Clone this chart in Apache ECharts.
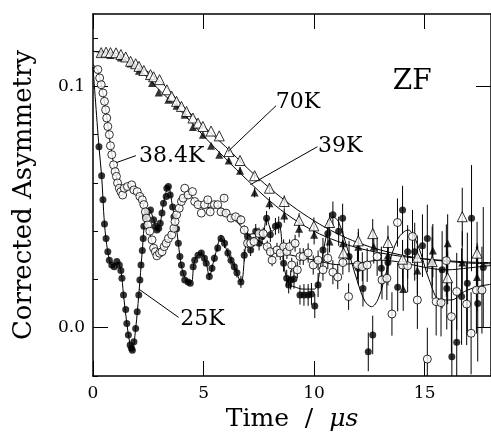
<!DOCTYPE html>
<html>
<head>
<meta charset="utf-8">
<script src="https://cdn.jsdelivr.net/npm/echarts@6/dist/echarts.min.js"></script>
<style>html,body{margin:0;padding:0;background:#fff}#c{width:491px;height:437px}</style>
</head>
<body>
<div id="c"></div>
<script>
// ---- data: [time (us), corrected asymmetry, error] ----
const d70 = [[0.37,0.1140,0],[0.59,0.1142,0],[0.79,0.1140,0],[1.04,0.1139,0],[1.26,0.1132,0],[1.48,0.1122,0],[1.70,0.1104,0],[1.93,0.1094,0],[2.08,0.1083,0],[2.30,0.1066,0],[2.60,0.1049,0],[2.74,0.1040,0],[3.01,0.1028,0],[3.34,0.0986,0],[3.56,0.0959,0],[3.78,0.0938,0],[4.00,0.0917,0],[4.23,0.0896,0],[4.52,0.0869,0],[4.75,0.0848,0],[4.97,0.0834,0],[5.34,0.0815,0],[5.71,0.0795,0],[6.15,0.0730,0.001],[6.65,0.0693,0.001],[7.31,0.0630,0.0015],[7.98,0.0578,0.002],[8.65,0.0523,0.0025],[9.32,0.0445,0.003],[9.99,0.0422,0.0035],[10.70,0.0436,0.004],[11.33,0.0310,0.0045],[12.00,0.0360,0.005],[12.65,0.0390,0.006],[13.34,0.0353,0.007],[14.00,0.0284,0.008],[14.67,0.0292,0.009],[15.34,0.0274,0.010],[16.04,0.0207,0.011],[16.70,0.0460,0.012],[17.37,0.0309,0.013]];
const d39 = [[0.37,0.1138,0],[0.79,0.1130,0],[1.26,0.1120,0],[1.70,0.1095,0],[2.08,0.1065,0],[2.67,0.1014,0],[2.97,0.0975,0],[3.41,0.0945,0],[3.78,0.0920,0],[4.15,0.0883,0],[4.52,0.0832,0],[4.97,0.0800,0],[5.34,0.0754,0],[5.71,0.0717,0],[6.14,0.0693,0.001],[6.65,0.0651,0.0015],[7.31,0.0560,0.002],[7.98,0.0516,0.0025],[8.65,0.0465,0.003],[9.32,0.0410,0.0035],[10.00,0.0385,0.004],[10.70,0.0357,0.0045],[11.30,0.0350,0.005],[12.00,0.0336,0.006],[12.70,0.0336,0.007],[13.34,0.0300,0.008],[14.03,0.0160,0.009],[14.67,0.0237,0.010],[15.37,0.0320,0.011],[16.04,0.0350,0.012],[16.70,0.0270,0.013],[17.37,0.0210,0.014]];
const d384 = [[0.22,0.1070,0],[0.30,0.1035,0],[0.37,0.1007,0],[0.45,0.0973,0],[0.52,0.0938,0],[0.57,0.0903,0],[0.62,0.0869,0],[0.67,0.0834,0],[0.74,0.0800,0],[0.79,0.0754,0],[0.85,0.0717,0],[0.93,0.0675,0],[1.00,0.0647,0],[1.06,0.0627,0],[1.11,0.0600,0],[1.19,0.0578,0],[1.26,0.0564,0],[1.34,0.0550,0],[1.41,0.0578,0],[1.56,0.0585,0],[1.75,0.0592,0],[1.85,0.0571,0],[2.00,0.0564,0],[2.12,0.0544,0],[2.23,0.0530,0],[2.30,0.0510,0],[2.37,0.0480,0],[2.42,0.0454,0],[2.48,0.0426,0],[2.57,0.0400,0],[2.67,0.0364,0],[2.74,0.0330,0],[2.82,0.0315,0],[2.89,0.0298,0],[3.01,0.0309,0],[3.12,0.0315,0],[3.22,0.0336,0],[3.31,0.0350,0],[3.41,0.0370,0],[3.56,0.0385,0],[3.66,0.0412,0],[3.71,0.0440,0],[3.78,0.0468,0],[3.90,0.0495,0],[4.00,0.0523,0],[4.08,0.0537,0],[4.15,0.0578,0],[4.30,0.0550,0],[4.50,0.0564,0],[4.60,0.0523,0],[4.75,0.0510,0],[4.90,0.0475,0],[5.04,0.0510,0.001],[5.19,0.0530,0.001],[5.30,0.0480,0.001],[5.49,0.0510,0.001],[5.64,0.0510,0.001],[5.79,0.0480,0.0015],[5.93,0.0537,0.0015],[6.02,0.0475,0.0015],[6.24,0.0454,0.0015],[6.45,0.0460,0.0015],[6.69,0.0447,0.002],[6.84,0.0405,0.002],[6.99,0.0350,0.002],[7.13,0.0350,0.002],[7.28,0.0357,0.002],[7.51,0.0390,0.0025],[7.70,0.0390,0.0025],[7.88,0.0336,0.0025],[8.02,0.0315,0.0025],[8.10,0.0280,0.0025],[8.32,0.0322,0.003],[8.47,0.0310,0.003],[8.62,0.0336,0.003],[8.77,0.0315,0.003],[8.89,0.0336,0.003],[8.99,0.0260,0.003],[9.14,0.0350,0.0035],[9.24,0.0240,0.0035],[9.36,0.0295,0.0035],[9.51,0.0295,0.0035],[9.73,0.0310,0.004],[9.96,0.0260,0.004],[10.18,0.0280,0.004],[10.40,0.0240,0.0045],[10.62,0.0288,0.0045],[10.85,0.0230,0.005],[11.07,0.0210,0.005],[11.30,0.0270,0.005],[11.56,0.0129,0.0055],[11.96,0.0260,0.006],[12.18,0.0253,0.006],[12.40,0.0260,0.007],[12.85,0.0295,0.008],[13.07,0.0198,0.008],[13.29,0.0205,0.009],[13.52,0.0057,0.009],[13.77,0.0436,0.010],[14.00,0.0260,0.010],[14.23,0.0257,0.011],[14.45,0.0378,0.011],[14.67,0.0115,0.012],[15.12,-0.0130,0.013],[15.52,0.0108,0.014],[15.74,0.0104,0.014],[15.98,0.0278,0.015],[16.21,0.0046,0.015],[16.45,0.0150,0.016],[16.90,0.0098,0.017],[17.10,-0.0023,0.017],[17.34,0.0156,0.018],[17.59,0.0156,0.018]];
const d25 = [[0.27,0.0750,0],[0.39,0.0630,0],[0.45,0.0530,0],[0.52,0.0430,0],[0.59,0.0370,0],[0.67,0.0315,0],[0.74,0.0280,0],[0.85,0.0260,0],[0.96,0.0253,0],[1.08,0.0274,0],[1.19,0.0260,0],[1.26,0.0237,0],[1.31,0.0205,0],[1.38,0.0136,0],[1.48,0.0076,0],[1.53,0.0018,0],[1.60,-0.0030,0],[1.68,-0.0072,0],[1.74,-0.0085,0],[1.78,-0.0093,0],[1.85,-0.0058,0],[1.93,-0.0003,0],[2.00,0.0066,0],[2.07,0.0136,0],[2.12,0.0198,0],[2.17,0.0260,0],[2.23,0.0320,0],[2.27,0.0370,0],[2.30,0.0420,0],[2.37,0.0460,0],[2.45,0.0480,0],[2.60,0.0488,0],[2.74,0.0447,0],[2.82,0.0420,0],[2.89,0.0405,0],[2.97,0.0412,0],[3.04,0.0433,0],[3.12,0.0475,0],[3.19,0.0516,0],[3.31,0.0544,0],[3.34,0.0578,0],[3.41,0.0585,0],[3.49,0.0550,0],[3.60,0.0500,0],[3.66,0.0460,0],[3.78,0.0410,0],[3.86,0.0350,0],[3.93,0.0295,0],[4.00,0.0260,0],[4.08,0.0226,0],[4.15,0.0198,0],[4.30,0.0190,0],[4.40,0.0184,0],[4.53,0.0253,0],[4.60,0.0280,0],[4.75,0.0300,0],[4.90,0.0310,0.001],[5.04,0.0288,0.001],[5.12,0.0267,0.001],[5.26,0.0212,0.0015],[5.38,0.0246,0.0015],[5.49,0.0288,0.0015],[5.64,0.0330,0.0015],[5.79,0.0370,0.0015],[5.95,0.0350,0.002],[6.10,0.0310,0.002],[6.24,0.0280,0.002],[6.39,0.0253,0.002],[6.51,0.0228,0.002],[6.69,0.0190,0.0025],[6.84,0.0300,0.0025],[6.99,0.0378,0.0025],[7.13,0.0322,0.0025],[7.36,0.0400,0.003],[7.51,0.0350,0.003],[7.65,0.0378,0.003],[7.85,0.0454,0.003],[8.02,0.0385,0.003],[8.25,0.0420,0.0035],[8.40,0.0426,0.0035],[8.62,0.0267,0.0035],[8.76,0.0205,0.0035],[8.85,0.0177,0.0035],[8.94,0.0198,0.004],[9.09,0.0202,0.004],[9.36,0.0136,0.004],[9.54,0.0136,0.0045],[9.73,0.0136,0.0045],[9.88,0.0140,0.0045],[10.03,0.0090,0.005],[10.18,0.0177,0.005],[10.40,0.0322,0.005],[10.62,0.0390,0.0055],[10.85,0.0468,0.0055],[11.11,0.0400,0.006],[11.29,0.0454,0.006],[11.58,0.0295,0.0065],[12.00,0.0246,0.007],[12.21,0.0163,0.0075],[12.45,-0.0100,0.008],[12.65,-0.0030,0.008],[13.04,0.0246,0.009],[13.34,0.0270,0.0095],[13.78,0.0168,0.010],[14.00,0.0488,0.010],[14.23,0.0315,0.011],[14.55,0.0315,0.012],[14.90,0.0340,0.013],[15.12,0.0370,0.014],[15.34,0.0270,0.015],[15.79,0.0240,0.016],[16.00,0.0163,0.017],[16.23,-0.0120,0.018],[16.45,-0.0060,0.019],[16.67,0.0129,0.020],[16.93,0.0184,0.021],[17.12,0.0454,0.022],[17.40,0.0100,0.024],[17.65,0.0250,0.025]];

// ---- fit curves: [time, asymmetry] ----
const fit70 = [[0,0.1145],[1,0.1138],[2,0.1088],[3,0.1025],[4,0.0925],[5,0.0835],[6,0.0750],[7,0.0660],[8,0.0578],[9,0.0505],[10,0.0443],[11,0.0392],[12,0.0352],[13,0.0322],[14,0.0300],[15,0.0285],[16,0.0275],[17,0.0268],[18,0.0265]];
const fit39 = [[0,0.1145],[1,0.1128],[2,0.1075],[3,0.0985],[4,0.0895],[5,0.0795],[6,0.0700],[7,0.0610],[8,0.0525],[9,0.0455],[10,0.0400],[11,0.0360],[12,0.0330],[13,0.0310],[14,0.0295],[15,0.0285],[16,0.0278],[17,0.0272],[18,0.0270]];
const fit384 = [[0,0.1090],[0.2,0.1070],[0.4,0.0995],[0.6,0.0890],[0.8,0.0750],[1.0,0.0650],[1.2,0.0580],[1.4,0.0565],[1.6,0.0575],[1.8,0.0580],[2.0,0.0560],[2.2,0.0530],[2.4,0.0460],[2.6,0.0380],[2.8,0.0320],[2.95,0.0302],[3.1,0.0312],[3.3,0.0345],[3.5,0.0385],[3.7,0.0440],[3.9,0.0500],[4.1,0.0540],[4.3,0.0552],[4.5,0.0540],[4.8,0.0505],[5.0,0.0495],[5.3,0.0500],[5.6,0.0502],[5.9,0.0490],[6.2,0.0462],[6.6,0.0430],[7.0,0.0385],[7.5,0.0360],[8.0,0.0330],[8.5,0.0312],[9.0,0.0300],[9.5,0.0290],[10,0.0280],[10.5,0.0270],[11,0.0262],[12,0.0268],[13,0.0280],[14,0.0270],[15,0.0250],[16,0.0240],[17,0.0248],[18,0.0258]];
const fit25 = [[0,0.1080],[0.27,0.0750],[0.39,0.0630],[0.52,0.0430],[0.67,0.0315],[0.85,0.0260],[1.0,0.0265],[1.1,0.0272],[1.26,0.0237],[1.38,0.0136],[1.53,0.0018],[1.68,-0.0072],[1.78,-0.0093],[1.93,-0.0003],[2.07,0.0136],[2.23,0.0320],[2.37,0.0460],[2.55,0.0490],[2.74,0.0447],[2.9,0.0405],[3.04,0.0433],[3.19,0.0516],[3.41,0.0585],[3.6,0.0500],[3.78,0.0410],[3.93,0.0295],[4.08,0.0226],[4.3,0.0190],[4.45,0.0190],[4.6,0.0280],[4.9,0.0310],[5.12,0.0267],[5.26,0.0215],[5.49,0.0288],[5.79,0.0370],[6.1,0.0310],[6.39,0.0253],[6.69,0.0190],[6.99,0.0378],[7.36,0.0390],[7.65,0.0378],[7.85,0.0454],[8.1,0.0400],[8.4,0.0426],[8.62,0.0267],[8.85,0.0180],[9.1,0.0170],[9.5,0.0160],[10.0,0.0160],[10.3,0.0260],[10.6,0.0400],[10.85,0.0460],[11.1,0.0440],[11.5,0.0330],[12.0,0.0180],[12.3,0.0110],[12.6,0.0087],[12.9,0.0120],[13.3,0.0240],[13.8,0.0370],[14.25,0.0405],[14.7,0.0340],[15.2,0.0200],[15.7,0.0115],[16.2,0.0115],[16.8,0.0150],[17.4,0.0170],[18,0.0180]];

// ---- axis ticks and labels ----
const xTickLabels = [0, 5, 10, 15];
const yMinorTicks = [-0.02, 0, 0.02, 0.04, 0.06, 0.08, 0.1, 0.12];
const yMajorTicks = [0, 0.1];
const annotations = [
  {text:'70K',   at:[8.26,0.0935], from:[8.28,0.0920], to:[6.10,0.0730], size:22},
  {text:'39K',   at:[10.18,0.0753], from:[10.15,0.0750], to:[7.12,0.0593], size:22},
  {text:'38.4K', at:[2.08,0.0711], from:[1.94,0.0713], to:[1.05,0.0684], size:22},
  {text:'25K',   at:[3.95,0.0034], from:[3.87,0.0043], to:[2.09,0.0159], size:22},
  {text:'ZF',    at:[13.56,0.1021], size:28}
];

const FONT = '"DejaVu Serif", "Liberation Serif", serif';
const chart = echarts.init(document.getElementById('c'));

function errBars(data) {
  return {
    type: 'custom', data: data, encode: {x: 0, y: 1}, z: 1, silent: true,
    renderItem: function (params, api) {
      const t = api.value(0), a = api.value(1), e = api.value(2);
      if (!e) return null;
      const p1 = api.coord([t, a - e]), p2 = api.coord([t, a + e]);
      const cs = params.coordSys;
      const top = cs.y, bot = cs.y + cs.height;
      const y1 = Math.min(Math.max(p1[1], top), bot);
      const y2 = Math.min(Math.max(p2[1], top), bot);
      return {type: 'line', shape: {x1: p1[0], y1: y1, x2: p2[0], y2: y2},
              style: {stroke: '#000', lineWidth: 1}};
    }
  };
}
function pts(data, symbol, size, open) {
  return {
    type: 'scatter', data: data.map(d => [d[0], d[1]]), symbol: symbol, symbolSize: size,
    z: open ? 4 : 3, silent: true,
    itemStyle: open ? {color: '#fff', borderColor: '#000', borderWidth: 1} : {color: '#000'}
  };
}
function fit(data) {
  return {type: 'line', data: data, showSymbol: false, smooth: 0.35, z: 2, silent: true,
          lineStyle: {color: '#000', width: 1}};
}

const axisLine = {show: true, onZero: false, lineStyle: {color: '#000', width: 1.5}};
const yCommon = {type: 'value', min: -0.02, max: 0.13, splitLine: {show: false}};

chart.setOption({
  animation: false,
  backgroundColor: '#fff',
  grid: {left: 93, top: 14, width: 405, height: 362.5, containLabel: false},
  xAxis: [
    {type: 'value', min: 0, max: 18, interval: 5, position: 'bottom',
     axisLine: axisLine, splitLine: {show: false},
     axisTick: {inside: true, length: 15, customValues: xTickLabels, lineStyle: {color: '#000', width: 1}},
     axisLabel: {customValues: xTickLabels, color: '#000', fontFamily: FONT, fontSize: 17, margin: 9},
     name: '{n|Time  /  }{i|μs}', nameLocation: 'middle', nameGap: 31,
     nameTextStyle: {rich: {n: {fontFamily: FONT, fontSize: 25, color: '#000'},
                            i: {fontFamily: FONT, fontSize: 25, fontStyle: 'italic', color: '#000'}}}},
    {type: 'value', min: 0, max: 18, interval: 5, position: 'top',
     axisLine: axisLine, splitLine: {show: false},
     axisTick: {inside: true, length: 15, customValues: xTickLabels, lineStyle: {color: '#000', width: 1}},
     axisLabel: {show: false}}
  ],
  yAxis: [
    Object.assign({}, yCommon, {position: 'left', axisLine: axisLine,
     axisTick: {inside: true, length: 5, customValues: yMinorTicks, lineStyle: {color: '#000', width: 1}},
     axisLabel: {customValues: yMajorTicks, formatter: v => v.toFixed(1), color: '#000', fontFamily: FONT, fontSize: 17, margin: 8},
     name: 'Corrected Asymmetry', nameLocation: 'middle', nameGap: 56,
     nameTextStyle: {fontFamily: FONT, fontSize: 26, color: '#000'}}),
    Object.assign({}, yCommon, {position: 'left', axisLine: {show: false, onZero: false},
     axisTick: {inside: true, length: 15, customValues: yMajorTicks, lineStyle: {color: '#000', width: 1}},
     axisLabel: {show: false}}),
    Object.assign({}, yCommon, {position: 'right', axisLine: axisLine,
     axisTick: {inside: true, length: 15, customValues: yMajorTicks, lineStyle: {color: '#000', width: 1}},
     axisLabel: {show: false}})
  ],
  series: [
    fit(fit70), fit(fit39), fit(fit384), fit(fit25),
    errBars(d70), errBars(d39), errBars(d384), errBars(d25),
    pts(d25, 'circle', 7, false),
    pts(d384, 'circle', 8, true),
    pts(d39, 'triangle', 8, false),
    pts(d70, 'triangle', 10, true)
  ]
});

const toPx = p => chart.convertToPixel({xAxisIndex: 0, yAxisIndex: 0}, p);
const graphics = [];
annotations.forEach(a => {
  const p = toPx(a.at);
  graphics.push({type: 'text', x: p[0], y: p[1], z: 10, silent: true,
    style: {text: a.text, fontFamily: FONT, fontSize: a.size, fill: '#000', align: 'left', verticalAlign: 'middle'}});
  if (a.from) {
    const f = toPx(a.from), t = toPx(a.to);
    graphics.push({type: 'line', z: 10, silent: true, shape: {x1: f[0], y1: f[1], x2: t[0], y2: t[1]},
      style: {stroke: '#000', lineWidth: 1}});
  }
});
chart.setOption({graphic: graphics});
</script>
</body>
</html>
